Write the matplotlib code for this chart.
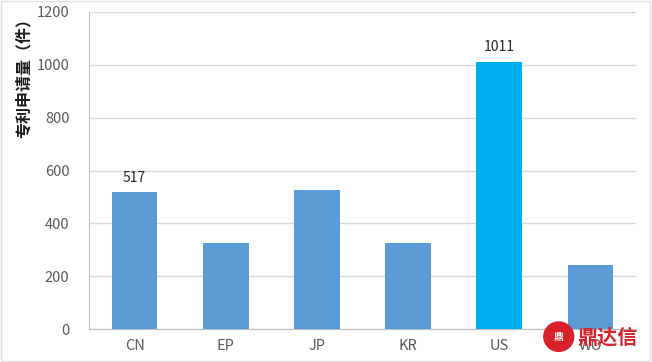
# -*- coding: utf-8 -*-
import matplotlib
matplotlib.use('Agg')
import matplotlib.pyplot as plt
from matplotlib.patches import Rectangle, Ellipse

plt.rcParams['font.family'] = ['Noto Sans CJK SC', 'DejaVu Sans']

# 数据
countries = ['CN', 'EP', 'JP', 'KR', 'US', 'WO']
counts = [517, 324, 527, 327, 1011, 241]
labeled = {'CN': 517, 'US': 1011}
colors = ['#5B9BD5', '#5B9BD5', '#5B9BD5', '#5B9BD5', '#00B0F0', '#5B9BD5']

fig = plt.figure(figsize=(6.52, 3.62), dpi=100)
ax = fig.add_axes([0.1365, 0.091, 0.839, 0.876])

x = range(len(countries))
ax.bar(x, counts, width=0.5, color=colors, zorder=3)

for i, c in enumerate(countries):
    if c in labeled:
        ax.text(i, counts[i] + 30, str(labeled[c]), ha='center', va='bottom',
                fontsize=10, color='#262626')

ax.set_xlim(-0.5, 5.5)
ax.set_ylim(0, 1200)
ax.set_yticks(range(0, 1201, 200))
ax.set_xticks(list(x))
ax.set_xticklabels(countries)
ax.tick_params(axis='both', length=0, labelsize=10.5, colors='#595959')
ax.tick_params(axis='y', pad=14)
ax.tick_params(axis='x', pad=7)
ax.grid(axis='y', color='#D9D9D9', linewidth=1, zorder=0)

for s in ['top', 'right']:
    ax.spines[s].set_visible(False)
ax.spines['left'].set_color('#BFBFBF')
ax.spines['bottom'].set_color('#BFBFBF')

# y轴标题 (靠上)
fig.text(0.037, 0.795, u'专利申请量（件）', rotation=90, ha='center', va='center',
         fontsize=11.5, fontweight='bold', color='#1a1a1a')

# 外框
fig.patches.append(Rectangle((0.001, 0.003), 0.996, 0.994, transform=fig.transFigure,
                             fill=False, edgecolor='#E0E0E0', linewidth=1))

# 水印
fig.patches.append(Ellipse((0.857, 0.07), 0.048, 0.085, transform=fig.transFigure,
                           facecolor='#D7222B', edgecolor='none', zorder=10))
fig.text(0.857, 0.07, u'鼎', ha='center', va='center', fontsize=7, color='white',
         fontweight='bold', zorder=11)
fig.text(0.885, 0.07, u'鼎达信', ha='left', va='center', fontsize=14.5, color='#D7222B',
         fontweight='bold', zorder=11)

fig.savefig('out.png', dpi=100)
